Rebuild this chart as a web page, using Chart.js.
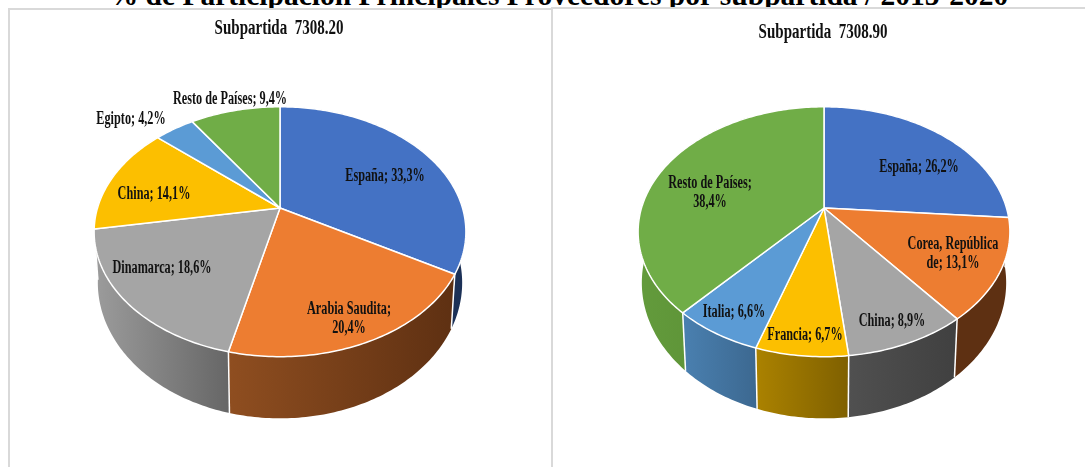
<!DOCTYPE html>
<html lang="es">
<head>
<meta charset="utf-8">
<title>Principales Proveedores por subpartida</title>
<script src="https://cdn.jsdelivr.net/npm/chart.js@4"></script>
<style>
  html, body { margin: 0; padding: 0; background: #fff; }
  body { width: 1085px; height: 467px; position: relative; overflow: hidden; font-family: "Liberation Serif", serif; }
  #heading { position: absolute; left: 0; width: 1117px; top: -21px; text-align: center; font-size: 29.5px; font-weight: bold; white-space: nowrap; color: #000; }
  .panel { position: absolute; height: 470px; border: 2px solid #d9d9d9; box-sizing: border-box; background: #fff; }
  #panelA { left: 8px; top: 8px; width: 545px; }
  #panelB { left: 551px; top: 7px; width: 545px; }
  .sub { position: absolute; font-size: 20px; font-weight: bold; color: #111; white-space: nowrap; transform: translateX(-50%) scaleX(0.75); }
  canvas { position: absolute; top: 0; }
</style>
</head>
<body>
<div id="heading">% de Participación Principales Proveedores por subpartida / 2015-2020</div>
<div class="panel" id="panelA"></div>
<div class="panel" id="panelB"></div>
<div style="position:absolute;left:9px;top:0;width:542px;height:467px"><canvas id="chartA"></canvas></div>
<div style="position:absolute;left:553px;top:0;width:542px;height:467px"><canvas id="chartB"></canvas></div>
<div class="sub" style="left:279px;top:16px">Subpartida&nbsp; 7308.20</div>
<div class="sub" style="left:823px;top:20px">Subpartida&nbsp; 7308.90</div>
<script>
const categoriesA = ["España", "Arabia Saudita", "Dinamarca", "China", "Egipto", "Resto de Países"];
const valuesA = [33.3, 20.4, 18.6, 14.1, 4.2, 9.4];
const categoriesB = ["España", "Corea, República de", "China", "Francia", "Italia", "Resto de Países"];
const valuesB = [26.2, 13.1, 8.9, 6.7, 6.6, 38.4];

const topColorsA = ["#4472c4", "#ed7d31", "#a5a5a5", "#fcbf00", "#5b9bd5", "#70ad47"];
const topColorsB = ["#4472c4", "#ed7d31", "#a5a5a5", "#fcbf00", "#5b9bd5", "#70ad47"];
// wall gradient left -> right for each slice
const wallColorsA = [["#1c3157", "#1c3157"], ["#8f4e20", "#5e3012"], ["#9c9c9c", "#666666"], ["#8f6c00", "#8f6c00"], ["#3d6a93", "#3d6a93"], ["#5f9439", "#5f9439"]];
const wallColorsB = [["#1c3157", "#1c3157"], ["#5e3012", "#5e3012"], ["#505050", "#404040"], ["#ab8200", "#7f6000"], ["#4a80b0", "#3c6890"], ["#639b3c", "#54852f"]];

// where the data labels sit, and after which text they wrap
const labelPosA = [[385, 176], [349, 309], [162, 268], [154, 194], [131, 119], [230, 99]];
const labelPosB = [[919, 167], [953, 244], [892, 321], [805, 335], [734, 312], [710, 183]];
const labelWrapA = [null, "Arabia Saudita;", null, null, null, null];
const labelWrapB = [null, "Corea, República", null, null, null, "Resto de Países;"];

// perspective of the pie, fitted on the picture
const tilt = 0.66;
const persp = 0.19;
const baseScaleX = 0.98;
const baseScaleY = 1.085;
const baseDrop = 49;

const labelFont = 'bold 18px "Liberation Serif"';
const labelSqueeze = 0.68;

// t is the angle from the top, arcs start at -PI/2 with rotation 0
function project(arc, angle, onBase) {
  const t = angle + Math.PI / 2;
  const X = Math.sin(t);
  const Y = -Math.cos(t);
  const w = 1 - persp * Y;
  const x = arc.outerRadius * X / w;
  const y = arc.outerRadius * tilt * Y / w;
  if (onBase) return [arc.x + x * baseScaleX, arc.y + y * baseScaleY + baseDrop];
  return [arc.x + x, arc.y + y];
}

function rimPoints(arc, from, to, onBase) {
  const steps = Math.max(2, Math.ceil((to - from) * 60));
  const pts = [];
  for (let i = 0; i <= steps; i++) {
    pts.push(project(arc, from + (to - from) * i / steps, onBase));
  }
  return pts;
}

function tracePath(ctx, pts) {
  pts.forEach((p, i) => (i ? ctx.lineTo(p[0], p[1]) : ctx.moveTo(p[0], p[1])));
}

const pie3d = {
  id: "pie3d",
  // replaces the flat arcs by the tilted ones, same angles
  beforeDatasetDraw(chart, args, opts) {
    const { ctx } = chart;
    const arcs = chart.getDatasetMeta(args.index).data;
    const front = Math.PI / 2;

    const order = arcs.map((a, i) => i).sort((p, q) => {
      const mid = (a) => Math.abs((a.startAngle + a.endAngle) / 2 - front);
      return mid(arcs[q]) - mid(arcs[p]);
    });

    ctx.save();
    ctx.lineJoin = "round";
    order.forEach((i) => {
      const arc = arcs[i];
      const rim = rimPoints(arc, arc.startAngle, arc.endAngle, false);
      const base = rimPoints(arc, arc.startAngle, arc.endAngle, true);
      const xs = rim.concat(base).map((p) => p[0]);
      const grad = ctx.createLinearGradient(Math.min(...xs), 0, Math.max(...xs), 0);
      grad.addColorStop(0, opts.walls[i][0]);
      grad.addColorStop(1, opts.walls[i][1]);
      ctx.beginPath();
      tracePath(ctx, rim.concat(base.reverse()));
      ctx.closePath();
      ctx.fillStyle = grad;
      ctx.fill();
    });
    // seams between the wall pieces
    ctx.strokeStyle = "#fff";
    ctx.lineWidth = 1.5;
    arcs.forEach((arc) => {
      const [x0, y0] = project(arc, arc.startAngle, false);
      const [x1, y1] = project(arc, arc.startAngle, true);
      ctx.beginPath();
      ctx.moveTo(x0, y0);
      ctx.lineTo(x1, y1);
      ctx.stroke();
    });
    // top face
    arcs.forEach((arc) => {
      ctx.beginPath();
      ctx.moveTo(arc.x, arc.y);
      rimPoints(arc, arc.startAngle, arc.endAngle, false).forEach((p) => ctx.lineTo(p[0], p[1]));
      ctx.closePath();
      ctx.fillStyle = arc.options.backgroundColor;
      ctx.fill();
      ctx.stroke();
    });
    ctx.restore();
    return false;
  },
  afterDatasetsDraw(chart, args, opts) {
    const { ctx } = chart;
    const ds = chart.data.datasets[0];
    const box = chart.canvas.getBoundingClientRect();
    ctx.save();
    ctx.font = labelFont;
    ctx.fillStyle = "#111";
    ctx.textAlign = "center";
    ctx.textBaseline = "middle";
    chart.data.labels.forEach((name, i) => {
      const value = `${ds.data[i].toFixed(1).replace(".", ",")}%`;
      const cut = opts.wrap[i];
      let lines = [`${name}; ${value}`];
      if (cut) {
        lines = [cut, lines[0].slice(cut.length).trim()];
      }
      lines.forEach((line, n) => {
        ctx.save();
        ctx.translate(opts.pos[i][0] - box.left, opts.pos[i][1] - box.top + n * 19);
        ctx.scale(labelSqueeze, 1);
        ctx.fillText(line, 0, 0);
        ctx.restore();
      });
    });
    ctx.restore();
  },
};

function makePie(id, labels, values, colors, walls, pos, wrap) {
  return new Chart(document.getElementById(id), {
    type: "pie",
    data: {
      labels,
      datasets: [{ data: values, backgroundColor: colors, borderWidth: 0 }],
    },
    options: {
      responsive: true,
      maintainAspectRatio: false,
      animation: false,
      // radius comes out at 182.5, hub at y=208
      layout: { padding: { top: 25.5, bottom: 76.5 } },
      plugins: {
        legend: { display: false },
        tooltip: { enabled: false },
        pie3d: { walls, pos, wrap },
      },
    },
    plugins: [pie3d],
  });
}

makePie("chartA", categoriesA, valuesA, topColorsA, wallColorsA, labelPosA, labelWrapA);
makePie("chartB", categoriesB, valuesB, topColorsB, wallColorsB, labelPosB, labelWrapB);
</script>
</body>
</html>
